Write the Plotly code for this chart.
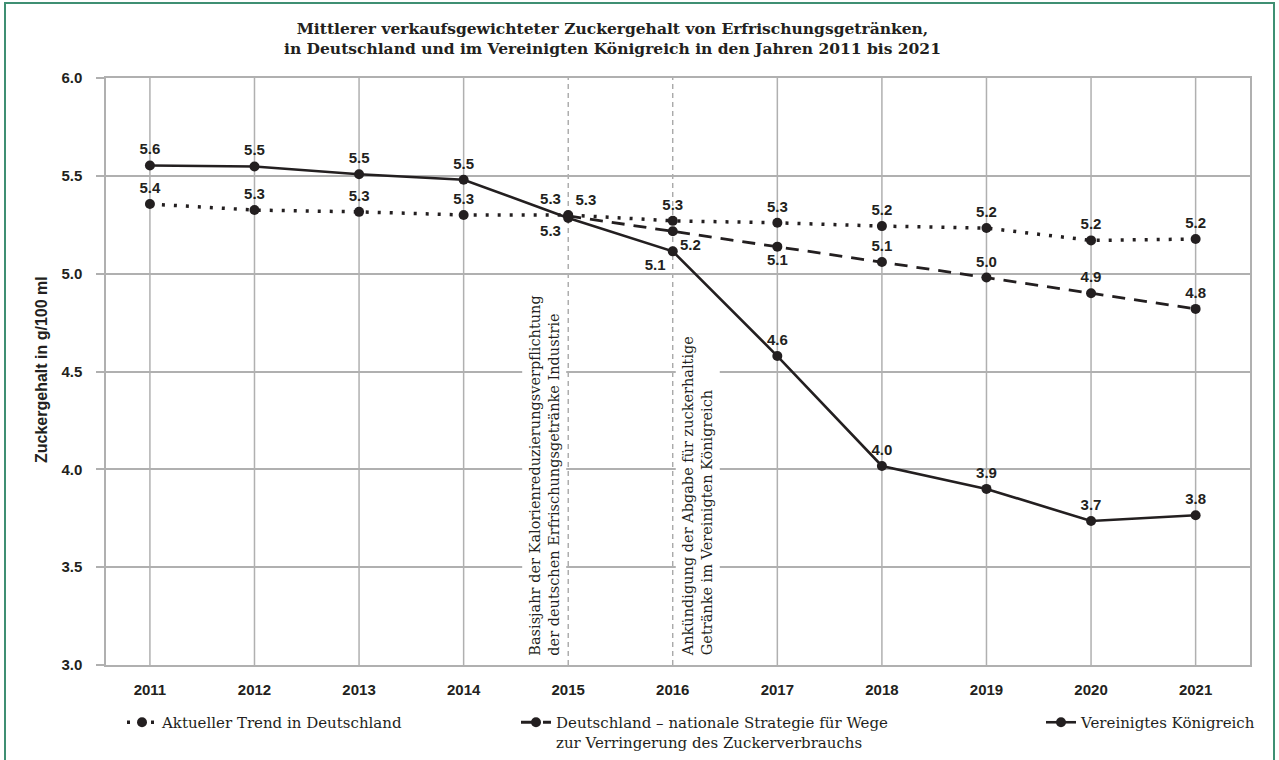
import plotly.graph_objects as go

# --- data -------------------------------------------------------------
years = [2011, 2012, 2013, 2014, 2015, 2016, 2017, 2018, 2019, 2020, 2021]
trend_de = [5.356, 5.325, 5.316, 5.30, 5.30, 5.27, 5.26, 5.243, 5.233, 5.17, 5.177]
strategy_years = [2015, 2016, 2017, 2018, 2019, 2020, 2021]
strategy_de = [5.295, 5.217, 5.138, 5.06, 4.98, 4.90, 4.82]
uk = [5.553, 5.548, 5.508, 5.48, 5.285, 5.114, 4.579, 4.017, 3.90, 3.736, 3.765]

milestone_years = [2015, 2016]
milestone_texts = [
    "Basisjahr der Kalorienreduzierungsverpflichtung<br>der deutschen Erfrischungsgetränke Industrie",
    "Ankündigung der Abgabe für zuckerhaltige<br>Getränke im Vereinigten Königreich",
]

series_names = [
    "Aktueller Trend in Deutschland",
    "Deutschland – nationale Strategie für Wege<br>zur Verringerung des Zuckerverbrauchs",
    "Vereinigtes Königreich",
]
title_text = ("Mittlerer verkaufsgewichteter Zuckergehalt von Erfrischungsgetränken,<br>"
              "in Deutschland und im Vereinigten Königreich in den Jahren 2011 bis 2021")
y_title = "Zuckergehalt in g/100 ml"

# --- styling ----------------------------------------------------------
INK = "#231f20"
GRID = "#b0b0b0"
FRAME = "#3f8f73"
SANS = "Liberation Sans, Arial, sans-serif"
SERIF = "DejaVu Serif, serif"

W, H = 1279, 760
ML, MR, MT, MB = 106, 29, 78, 95
PW, PH = W - ML - MR, H - MT - MB


def px_to_paper_x(px):
    return (px - ML) / PW


def px_to_paper_y(py):
    return (H - MB - py) / PH


label_font = dict(family=SANS, size=15, color=INK, weight="bold")

pos_trend = ["top center"] * len(years)
pos_trend[years.index(2015)] = "top left"

pos_strategy = ["top center"] * len(strategy_years)
pos_strategy[0] = "top right"
pos_strategy[1] = "bottom right"
pos_strategy[2] = "bottom center"

pos_uk = ["top center"] * len(years)
pos_uk[years.index(2015)] = "bottom left"
pos_uk[years.index(2016)] = "bottom left"

fig = go.Figure()

fig.add_trace(go.Scatter(
    x=years, y=trend_de, name=series_names[0], legend="legend",
    mode="lines+markers+text",
    line=dict(color=INK, width=3.5, dash="3px,9px"),
    marker=dict(color=INK, size=10),
    texttemplate="%{y:.1f}", textposition=pos_trend, textfont=label_font,
    hoverinfo="x+y",
))
fig.add_trace(go.Scatter(
    x=strategy_years, y=strategy_de, name=series_names[1], legend="legend2",
    mode="lines+markers+text",
    line=dict(color=INK, width=2.8, dash="13px,9px"),
    marker=dict(color=INK, size=10),
    texttemplate="%{y:.1f}", textposition=pos_strategy, textfont=label_font,
    hoverinfo="x+y",
))
fig.add_trace(go.Scatter(
    x=years, y=uk, name=series_names[2], legend="legend3",
    mode="lines+markers+text",
    line=dict(color=INK, width=2.6),
    marker=dict(color=INK, size=10),
    texttemplate="%{y:.1f}", textposition=pos_uk, textfont=label_font,
    hoverinfo="x+y",
))

# vertical grid: solid per year, dashed at the milestone years
shapes = []
for yr in years:
    dashed = yr in milestone_years
    shapes.append(dict(
        type="line", xref="x", yref="paper", x0=yr, x1=yr, y0=0, y1=1,
        line=dict(color="#9a9a9a" if dashed else GRID, width=1.2 if dashed else 1.5,
                  dash="5px,4px" if dashed else "solid"),
        layer="below",
    ))

# outer frame
shapes.append(dict(
    type="rect", xref="paper", yref="paper",
    x0=px_to_paper_x(5), x1=px_to_paper_x(1274),
    y0=px_to_paper_y(764), y1=px_to_paper_y(3),
    line=dict(color=FRAME, width=2), fillcolor="rgba(0,0,0,0)", layer="above",
))

annotations = [
    dict(text=title_text, xref="paper", yref="paper",
         x=px_to_paper_x(612), y=px_to_paper_y(38.5), xanchor="center", yanchor="middle",
         showarrow=False, font=dict(family=SERIF, size=15.5, color=INK, weight="bold")),
    dict(text=y_title, xref="paper", yref="paper",
         x=px_to_paper_x(41), y=px_to_paper_y(370), xanchor="center", yanchor="middle",
         textangle=-90, showarrow=False,
         font=dict(family=SANS, size=16, color=INK, weight="bold")),
    dict(text=milestone_texts[0], xref="x", yref="y", x=milestone_years[0], y=3.0,
         xanchor="right", yanchor="bottom", xshift=-2, yshift=4, textangle=-90,
         align="left", showarrow=False, bgcolor="white", borderpad=4,
         font=dict(family=SERIF, size=14.5, color=INK)),
    dict(text=milestone_texts[1], xref="x", yref="y", x=milestone_years[1], y=3.0,
         xanchor="left", yanchor="bottom", xshift=2, yshift=4, textangle=-90,
         align="left", showarrow=False, bgcolor="white", borderpad=4,
         font=dict(family=SERIF, size=14.5, color=INK)),
]

# legends are placed in container coordinates so they do not push the margins
legend_common = dict(
    orientation="v", xanchor="left", yanchor="top", valign="top",
    xref="container", yref="container",
    font=dict(family=SERIF, size=15, color=INK),
    bgcolor="rgba(0,0,0,0)", borderwidth=0, itemclick=False, itemdoubleclick=False,
)
legend_top = 1 - 706 / H

fig.update_layout(
    width=W, height=H,
    margin=dict(l=ML, r=MR, t=MT, b=MB, autoexpand=False),
    paper_bgcolor="white", plot_bgcolor="white",
    showlegend=True,
    legend=dict(legend_common, x=122 / W, y=legend_top),
    legend2=dict(legend_common, x=516 / W, y=legend_top),
    legend3=dict(legend_common, x=1041 / W, y=legend_top),
    xaxis=dict(
        range=[2010.58, 2021.52], tickmode="array", tickvals=years,
        ticktext=[str(y) for y in years], showgrid=False, zeroline=False,
        showline=True, mirror=True, linecolor=GRID, linewidth=1.5,
        ticks="", ticklabelstandoff=10,
        tickfont=dict(family=SANS, size=15, color=INK, weight="bold"),
    ),
    yaxis=dict(
        range=[3.0, 6.0], dtick=0.5, tick0=3.0, tickformat=".1f",
        showgrid=True, gridcolor=GRID, gridwidth=1.5, zeroline=False,
        showline=True, mirror=True, linecolor=GRID, linewidth=1.5,
        ticks="outside", ticklen=8, tickcolor=GRID, tickwidth=1.5, ticklabelstandoff=11,
        tickfont=dict(family=SANS, size=15, color=INK, weight="bold"),
    ),
    shapes=shapes,
    annotations=annotations,
)

fig.write_html("out.html")
